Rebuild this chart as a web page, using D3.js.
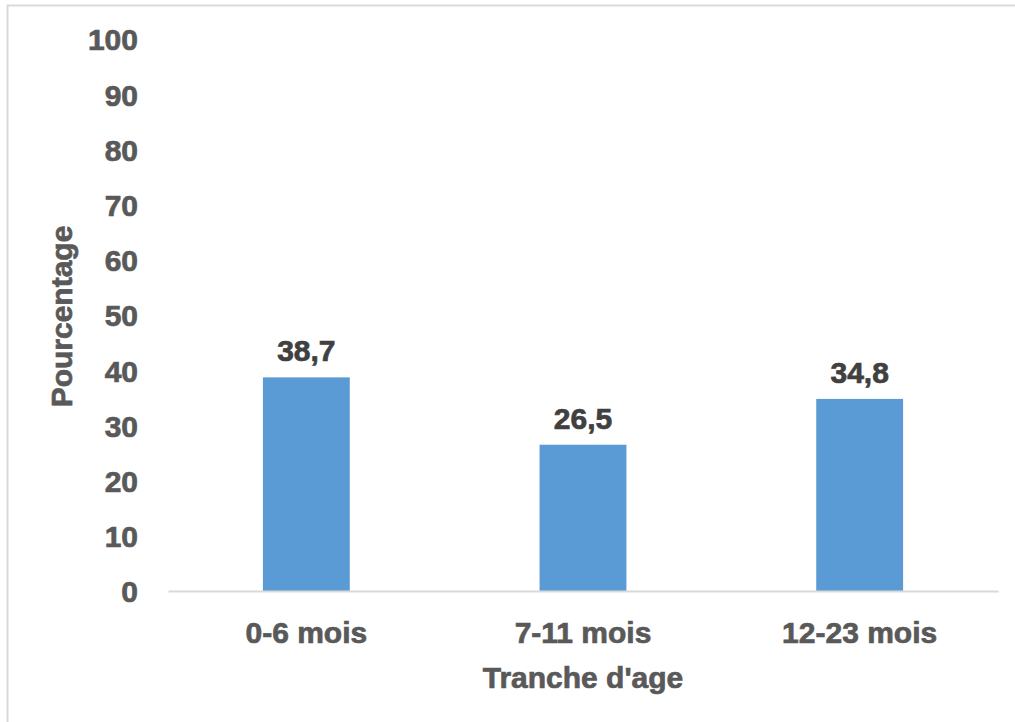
<!DOCTYPE html>
<html>
<head>
<meta charset="utf-8">
<script src="https://cdn.jsdelivr.net/npm/d3@7/dist/d3.min.js"></script>
<style>
  html, body { margin: 0; padding: 0; background: #ffffff; }
  svg { display: block; }
  text { font-family: "Liberation Sans", Arial, sans-serif; font-weight: bold; }
</style>
</head>
<body>
<script>
// Age groups and the share (%) for each
const categories = ["0-6 mois", "7-11 mois", "12-23 mois"];
const values = [38.7, 26.5, 34.8];
const valueLabels = ["38,7", "26,5", "34,8"];
const yTicks = [0, 10, 20, 30, 40, 50, 60, 70, 80, 90, 100];

const width = 1015, height = 722;
const plot = { left: 168, right: 998, top: 39, bottom: 591 };
const fontSize = "30px";

const svg = d3.select("body").append("svg")
  .attr("width", width)
  .attr("height", height);

// Chart-area frame
svg.append("rect")
  .attr("x", 7.5).attr("y", 5.5)
  .attr("width", 1030).attr("height", 740)
  .attr("fill", "none")
  .attr("stroke", "#d9d9d9")
  .attr("stroke-width", 2);

const x = d3.scaleBand()
  .domain(categories)
  .range([plot.left, plot.right])
  .paddingInner(0.686)
  .paddingOuter(0.343);

const y = d3.scaleLinear()
  .domain([0, 100])
  .range([plot.bottom, plot.top]);

// Heavier text rendering: fill plus a thin matching outline
function heavy(sel, color) {
  sel.attr("fill", color)
    .attr("stroke", color)
    .attr("stroke-width", 0.7)
    .style("font-size", fontSize)
    .style("font-family", "'Liberation Sans', Arial, sans-serif")
    .style("font-weight", "bold");
}

// Y axis: labels only
const yAxis = d3.axisLeft(y).tickValues(yTicks).tickSize(0).tickPadding(0);
const gy = svg.append("g")
  .attr("transform", `translate(138,0)`)
  .call(yAxis);
gy.select(".domain").remove();
gy.selectAll("text")
  .call(heavy, "#595959")
  .attr("dy", "0.36em");

// Bars
svg.append("g").selectAll("rect")
  .data(values)
  .join("rect")
  .attr("x", (d, i) => x(categories[i]))
  .attr("y", d => y(d))
  .attr("width", x.bandwidth())
  .attr("height", d => y(0) - y(d))
  .attr("fill", "#5b9bd5");

// X axis baseline and category labels
const xAxis = d3.axisBottom(x).tickSize(0).tickPadding(0);
const gx = svg.append("g")
  .attr("transform", `translate(0,${plot.bottom})`)
  .call(xAxis);
gx.select(".domain")
  .attr("stroke", "#d9d9d9")
  .attr("stroke-width", 2);
gx.selectAll("text")
  .call(heavy, "#595959")
  .attr("y", 52)
  .attr("dy", 0);

// Value labels above bars
svg.append("g").selectAll("text")
  .data(values)
  .join("text")
  .attr("x", (d, i) => x(categories[i]) + x.bandwidth() / 2)
  .attr("y", d => y(d) - 16)
  .attr("text-anchor", "middle")
  .call(heavy, "#404040")
  .text((d, i) => valueLabels[i]);

// Axis titles
svg.append("text")
  .attr("x", (plot.left + plot.right) / 2)
  .attr("y", 688)
  .attr("text-anchor", "middle")
  .call(heavy, "#595959")
  .text("Tranche d'age");

svg.append("text")
  .attr("transform", `translate(72,${(225 + 408) / 2}) rotate(-90)`)
  .attr("text-anchor", "middle")
  .call(heavy, "#595959")
  .text("Pourcentage");
</script>
</body>
</html>
